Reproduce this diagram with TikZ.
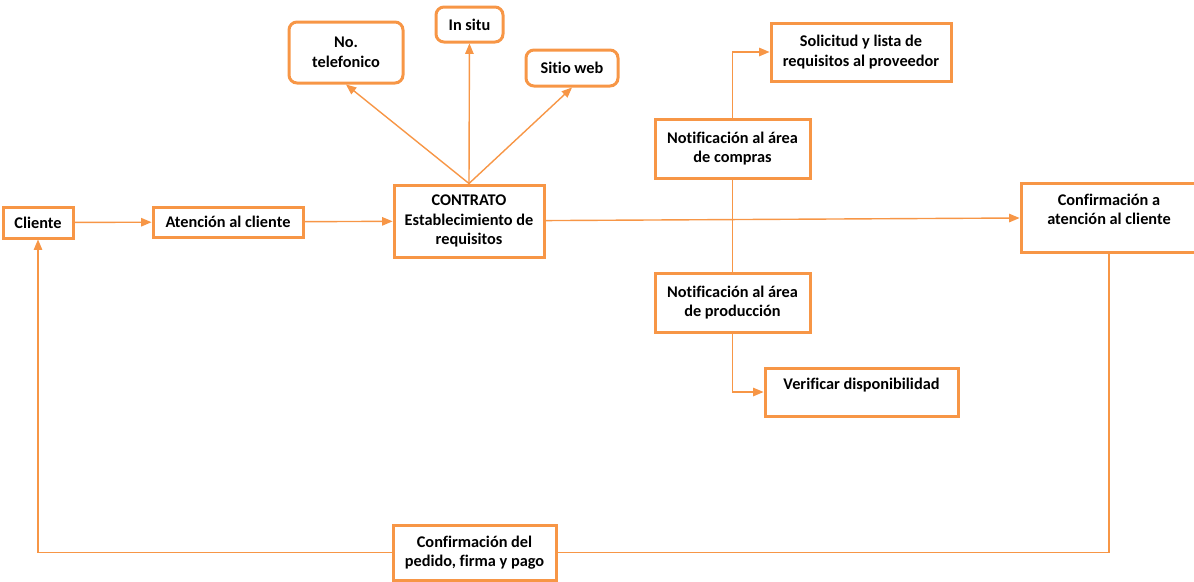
\documentclass[tikz,border=0pt]{standalone}
\usepackage{fontspec}
\setmainfont{Carlito}[Ligatures=NoCommon]
\usetikzlibrary{arrows}
\definecolor{naranja}{RGB}{247,150,70}
\begin{document}
\begin{tikzpicture}[x=1pt,y=-1pt,font=\bfseries\fontsize{16.3}{19.5}\selectfont,
caja/.style={draw=naranja,line width=3pt,align=center,inner sep=0pt},
redonda/.style={caja,rounded corners=8pt},
flecha/.style={draw=naranja,line width=1.4pt,-triangle 45},
linea/.style={draw=naranja,line width=1.4pt}]
\useasboundingbox (0,0) rectangle (1194,581);
\node[caja,minimum width=70,minimum height=31] (Cl) at (38,222.5) {Cliente};
\node[caja,minimum width=150,minimum height=30] (At) at (228,222) {Atención al cliente};
\node[caja,minimum width=150,minimum height=72] (Co) at (469,221) {CONTRATO\\Establecimiento de\\requisitos};
\node[redonda,minimum width=114,minimum height=61] (Tel) at (346,52.5) {No.\\telefonico};
\node[redonda,minimum width=67,minimum height=35] (Is) at (469.5,24.5) {In situ};
\node[redonda,minimum width=92,minimum height=36] (Sw) at (572,68) {Sitio web};
\node[caja,minimum width=180,minimum height=58] (Sol) at (861,52) {Solicitud y lista de\\requisitos al proveedor};
\node[caja,minimum width=155,minimum height=59] (Nc) at (732.5,148.5) {Notificación al área\\de compras};
\node[caja,minimum width=155,minimum height=59] (Np) at (732.5,302.5) {Notificación al área\\de producción};
\node[caja,minimum width=193,text height=21.5,text depth=26.5] (Ver) at (861.5,392) {Verificar disponibilidad};
\node[caja,minimum width=176,text height=41.5,text depth=27.5] (Ca) at (1109,217.5) {Confirmación a\\atención al cliente};
\node[caja,minimum width=163,minimum height=55] (Pe) at (474.5,552.5) {Confirmación del\\pedido, firma y pago};

\draw[flecha] (Cl) -- (At);
\draw[flecha] (At) -- (Co);
\draw[flecha] (Co) -- (Ca);
\draw[flecha] (Co.north) -- (Tel.south);
\draw[flecha] (Co.north) -- (Is);
\draw[flecha] (Co.north) -- (Sw.south);
\draw[flecha] (Nc.north) |- (Sol);
\draw[linea] (Nc) -- (Np);
\draw[flecha] (Np.south) |- (Ver);
\draw[linea] (Ca.south) |- (Pe);
\draw[flecha] (Pe) -| (Cl);
\end{tikzpicture}
\end{document}
